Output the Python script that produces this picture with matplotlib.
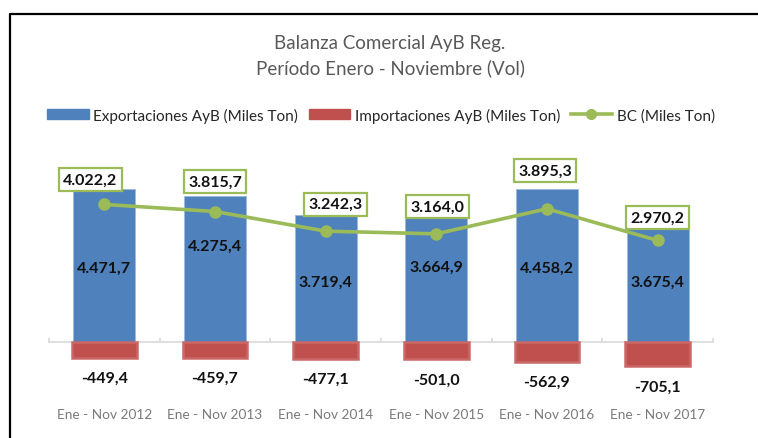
import matplotlib.pyplot as plt
from matplotlib.lines import Line2D
from matplotlib.patches import Patch

plt.rcParams['font.family'] = ['Lato', 'DejaVu Sans']

periodos = ['Ene - Nov 2012', 'Ene - Nov 2013', 'Ene - Nov 2014',
            'Ene - Nov 2015', 'Ene - Nov 2016', 'Ene - Nov 2017']
exportaciones = [4471.7, 4275.4, 3719.4, 3664.9, 4458.2, 3675.4]
importaciones = [-449.4, -459.7, -477.1, -501.0, -562.9, -705.1]
balanza = [4022.2, 3815.7, 3242.3, 3164.0, 3895.3, 2970.2]

# where the export labels sit inside the bars (data units)
y_etiqueta_exp = [2184, 2816, 1775, 2213, 2184, 1775]
# offsets (pixels) of the BC boxes from their points
desp_bc = [(-14, 25), (0, 30), (10, 27), (1, 27), (-2, 38), (0, 23)]

azul = '#4F81BD'
rojo = '#C0504D'
verde = '#9BBB59'


def formato(v):
    # 4471.7 -> 4.471,7
    return f'{v:,.1f}'.replace(',', 'X').replace('.', ',').replace('X', '.')


W, H = 758, 439
fig = plt.figure(figsize=(W / 100, H / 100), dpi=100)
ax = fig.add_axes([49 / W, (H - 377.6) / H, 664 / W, 205.7 / H])

x = list(range(len(periodos)))
ax.bar(x, exportaciones, width=0.56, color=azul, edgecolor='#9db8da', linewidth=0.6, zorder=2)
ax.bar(x, importaciones, width=0.585, color=rojo, edgecolor='#c96866', linewidth=1.8, zorder=2)
ax.plot(x, balanza, color=verde, linewidth=2.6, marker='o', markersize=8, zorder=4)

ax.set_xlim(-0.5, len(periodos) - 0.5)
ax.set_ylim(-1000, 5000)

# only a light zero line with short ticks between categories
for s in ['top', 'right', 'left']:
    ax.spines[s].set_visible(False)
ax.spines['bottom'].set_position(('data', 0))
ax.spines['bottom'].set_color('#d9d9d9')
ax.spines['bottom'].set_linewidth(1.2)
ax.spines['bottom'].set_zorder(1)
ax.set_yticks([])
ax.set_xticks([i - 0.5 for i in range(len(periodos) + 1)])
ax.set_xticklabels([])
ax.tick_params(axis='x', direction='in', length=3, width=1.2, color='#d9d9d9')

for i in x:
    ax.text(i, y_etiqueta_exp[i], formato(exportaciones[i]),
            ha='center', va='center', fontsize=11.5, fontweight='bold', color='#111111', zorder=5)
    ax.annotate(formato(importaciones[i]),
                (i, importaciones[i]), xytext=(0, -20 * 0.72), textcoords='offset points',
                ha='center', va='center', fontsize=11.5, fontweight='bold', color='#111111',
                annotation_clip=False)
    dx, dy = desp_bc[i]
    ax.annotate(formato(balanza[i]),
                (i, balanza[i]), xytext=(dx * 0.72, dy * 0.72), textcoords='offset points',
                ha='center', va='center', fontsize=11.5, fontweight='bold', color='#111111',
                bbox=dict(boxstyle='square,pad=0.28', fc='white', ec=verde, lw=1.6),
                annotation_clip=False, zorder=6)
    ax.text(i, -0.184, periodos[i], transform=ax.get_xaxis_transform(),
            ha='center', va='center', fontsize=9.8, color='#7a7a7a')

fig.text(390 / W, 1 - 43 / H, 'Balanza Comercial AyB Reg.', ha='center', va='center',
         fontsize=13.5, color='#595959')
fig.text(390 / W, 1 - 68 / H, 'Período Enero - Noviembre (Vol)', ha='center', va='center',
         fontsize=13.5, color='#595959')

handles = [Patch(color=azul, label='Exportaciones AyB (Miles Ton)'),
           Patch(color=rojo, label='Importaciones AyB (Miles Ton)'),
           Line2D([], [], color=verde, linewidth=2.6, marker='o', markersize=7,
                  label='BC (Miles Ton)')]
fig.legend(handles=handles, loc='center', bbox_to_anchor=(381 / W, 1 - 116 / H), ncol=3,
           frameon=False, fontsize=11, handlelength=2.7, handleheight=0.6,
           handletextpad=0.3, columnspacing=0.7, labelcolor='#262626')

# outer frame of the chart area (left and top edges)
fig.add_artist(Line2D([10 / W, 10 / W, 1], [0, 1 - 15 / H, 1 - 15 / H], color='black', linewidth=1.6))

fig.savefig('out.png', dpi=100)
